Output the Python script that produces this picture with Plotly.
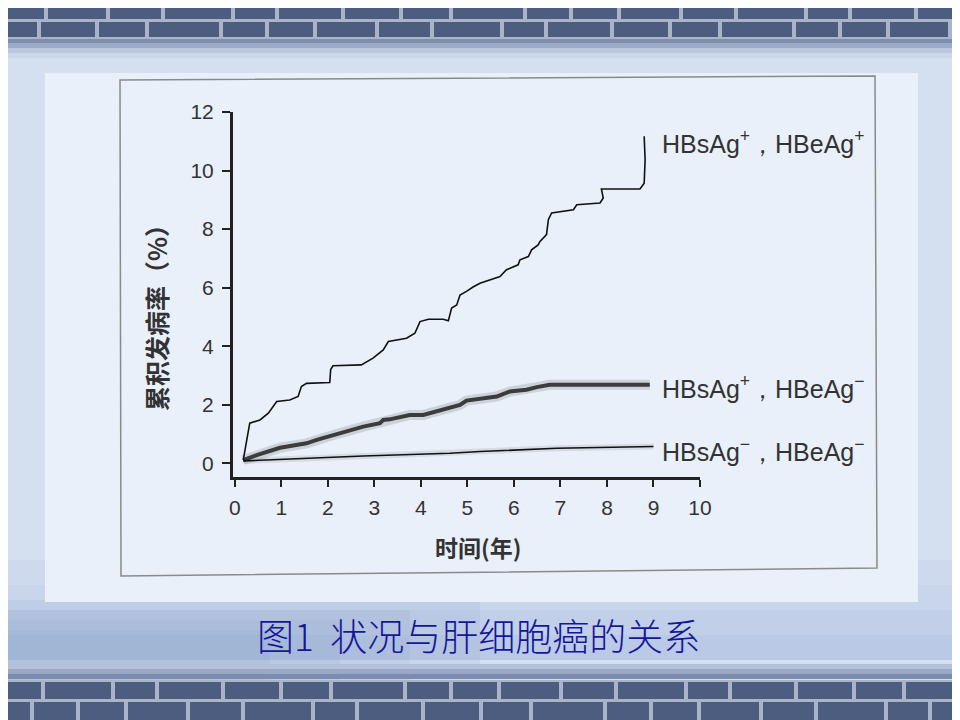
import plotly.graph_objects as go

# HBsAg+, HBeAg+ (cumulative incidence, %)
pos_pos_years = [0.18, 0.25, 0.32, 0.54, 0.72, 0.90, 1.18, 1.36, 1.43, 1.54, 2.04, 2.06, 2.11,
                 2.72, 2.97, 3.19, 3.30, 3.69, 3.87, 3.98, 4.16, 4.48, 4.59, 4.66, 4.77, 4.84,
                 4.98, 5.12, 5.27, 5.70, 5.84, 6.09, 6.13, 6.31, 6.38, 6.52, 6.56, 6.70, 6.74,
                 6.81, 7.28, 7.35, 7.85, 7.92, 7.88, 8.71, 8.80, 8.82, 8.80]
pos_pos_rate = [0.11, 0.80, 1.37, 1.48, 1.71, 2.11, 2.16, 2.28, 2.62, 2.73, 2.76, 3.20, 3.33,
                3.36, 3.59, 3.87, 4.16, 4.27, 4.44, 4.84, 4.92, 4.92, 4.87, 5.30, 5.41, 5.75,
                5.87, 6.02, 6.15, 6.38, 6.61, 6.78, 6.95, 7.06, 7.29, 7.46, 7.58, 7.81, 8.32,
                8.55, 8.66, 8.83, 8.89, 9.06, 9.37, 9.37, 9.57, 10.37, 11.17]

# HBsAg+, HBeAg-
pos_neg_years = [0.18, 0.47, 0.97, 1.54, 1.76, 2.26, 2.76, 3.12, 3.19, 3.33, 3.76, 4.05, 4.48,
                 4.84, 4.98, 5.34, 5.63, 5.91, 6.27, 6.49, 6.77, 8.92]
pos_neg_rate = [0.11, 0.28, 0.53, 0.68, 0.80, 1.03, 1.25, 1.37, 1.48, 1.50, 1.65, 1.65, 1.82,
                1.99, 2.14, 2.22, 2.28, 2.45, 2.51, 2.60, 2.68, 2.68]

# HBsAg-, HBeAg-
neg_neg_years = [0.18, 2.76, 4.62, 5.27, 6.92, 9.00]
neg_neg_rate = [0.08, 0.25, 0.34, 0.40, 0.51, 0.57]

x_ticks = [0, 1, 2, 3, 4, 5, 6, 7, 8, 9, 10]
y_ticks = [0, 2, 4, 6, 8, 10, 12]

series_labels = ["HBsAg<sup>+</sup>，HBeAg<sup>+</sup>",
                 "HBsAg<sup>+</sup>，HBeAg<sup>−</sup>",
                 "HBsAg<sup>−</sup>，HBeAg<sup>−</sup>"]
label_y = [10.98, 2.6, 0.45]

caption = "图1  状况与肝细胞癌的关系"

# plot area in screen pixels; the page body adds an 8px margin around the figure
OFF = 8
L, R, T, B = 233, 700, 112, 477
W, H = 960, 720


def px_x(px):
    return (px - L) / (R - L)


def px_y(py):
    return (B - py) / (B - T)


def rect(x0, y0, x1, y1, fill, line=None, lw=0):
    return dict(type="rect", xref="paper", yref="paper", layer="below",
                x0=px_x(x0), x1=px_x(x1), y0=px_y(y1), y1=px_y(y0),
                fillcolor=fill, line=dict(color=line or fill, width=lw))


fig = go.Figure()

# halo under the scanned curves
fig.add_trace(go.Scatter(x=pos_neg_years, y=pos_neg_rate, mode="lines",
                         line=dict(color="rgba(120,120,120,0.25)", width=10),
                         hoverinfo="skip", showlegend=False))
fig.add_trace(go.Scatter(x=neg_neg_years, y=neg_neg_rate, mode="lines",
                         line=dict(color="rgba(120,120,120,0.18)", width=6),
                         hoverinfo="skip", showlegend=False))
fig.add_trace(go.Scatter(x=pos_neg_years, y=pos_neg_rate, mode="lines",
                         line=dict(color="#3c3c3c", width=4), name=series_labels[1],
                         showlegend=False))
fig.add_trace(go.Scatter(x=pos_pos_years, y=pos_pos_rate, mode="lines",
                         line=dict(color="#111111", width=1.6), name=series_labels[0],
                         showlegend=False))
fig.add_trace(go.Scatter(x=neg_neg_years, y=neg_neg_rate, mode="lines",
                         line=dict(color="#111111", width=1.6), name=series_labels[2],
                         showlegend=False))

shapes = []
# slide background, lighter at the top, bluer towards the bottom left
shapes.append(rect(0, 0, W + OFF, H + OFF, "#d4dff0"))
for i, c in enumerate(["#ced9ed", "#c8d5eb", "#c1cfe8", "#bac9e5"]):
    shapes.append(rect(0, 560 + i * 25, W + OFF, 585 + i * 25, c))
for i, c in enumerate(["rgba(120,145,190,0.10)", "rgba(120,145,190,0.10)",
                       "rgba(120,145,190,0.10)", "rgba(120,145,190,0.10)"]):
    shapes.append(rect(0, 600 + i * 10, 480 - i * 70, 680, c))
for i, c in enumerate(["#7e8eae", "#9dacc6", "#b9c6dc", "#cbd6e9"]):
    shapes.append(rect(0, 38 + i * 5, W + OFF, 43 + i * 5, c))
for i, c in enumerate(["#b2c0da", "#98a8c6", "#7c8cae"]):
    shapes.append(rect(0, 664 + i * 5, W + OFF, 669 + i * 5, c))

# brick bands (top and bottom)
brick_rows = [(2, 19, 0), (22, 37, 25), (682, 699, 10), (702, 720, 40)]
brick_widths = [48, 62, 55, 70, 44, 66, 58, 50, 74, 46]
for y0, y1, offset in brick_rows:
    shapes.append(rect(0, y0 - 2, W + OFF, y1 + 2, "#a9b4c8"))
    x = -offset
    k = offset // 5
    while x < W + OFF:
        w = brick_widths[k % len(brick_widths)]
        shapes.append(rect(max(x, 0), y0, min(x + w - 4, W + OFF), y1, "#4d5d7f"))
        x += w
        k += 1

# scanned figure card and its frame
shapes.append(rect(45, 73, 918, 602, "#e9f0fa"))
shapes.append(dict(type="path", xref="paper", yref="paper", layer="below",
                   path="M {} {} L {} {} L {} {} L {} {} Z".format(
                       px_x(120), px_y(80), px_x(875), px_y(76),
                       px_x(877), px_y(568), px_x(121), px_y(576)),
                   line=dict(color="#8a8a8a", width=1.5)))

annotations = []
for text, yv in zip(series_labels, label_y):
    annotations.append(dict(x=9.14, y=yv, xref="x", yref="y", text=text,
                            showarrow=False, xanchor="left", yanchor="middle",
                            font=dict(family="Liberation Sans", size=25, color="#333333")))

annotations.append(dict(x=px_x(156), y=px_y(312), xref="paper", yref="paper",
                        text="累积发病率（%）", textangle=-90, showarrow=False,
                        xanchor="center", yanchor="middle",
                        font=dict(family="Noto Sans CJK SC", size=25, color="#333333", weight="bold")))
annotations.append(dict(x=px_x(478), y=px_y(547), xref="paper", yref="paper",
                        text="时间(年)", showarrow=False, xanchor="center", yanchor="middle",
                        font=dict(family="Noto Sans CJK SC", size=23, color="#333333", weight="bold")))
annotations.append(dict(x=px_x(478), y=px_y(635), xref="paper", yref="paper",
                        text=caption, showarrow=False, xanchor="center", yanchor="middle",
                        font=dict(family="Noto Sans CJK SC", size=37, color="#16169a", weight=300)))

fig.update_layout(
    width=W, height=H,
    margin=dict(l=L - OFF, r=W - (R - OFF), t=T - OFF, b=H - (B - OFF), pad=0),
    paper_bgcolor="#d4dff0",
    plot_bgcolor="rgba(0,0,0,0)",
    shapes=shapes,
    annotations=annotations,
    showlegend=False,
)
fig.update_xaxes(range=[-0.04, 10], tickvals=x_ticks, showgrid=False, zeroline=False,
                 showline=True, linecolor="#222222", linewidth=3,
                 ticks="outside", ticklen=7, tickwidth=2, tickcolor="#222222",
                 ticklabelstandoff=3,
                 tickfont=dict(family="Liberation Sans", size=21, color="#333333"))
fig.update_yaxes(range=[-0.47, 12], tickvals=y_ticks, showgrid=False, zeroline=False,
                 showline=True, linecolor="#222222", linewidth=3,
                 ticks="outside", ticklen=8, tickwidth=2, tickcolor="#222222",
                 ticklabelstandoff=4,
                 tickfont=dict(family="Liberation Sans", size=21, color="#333333"))

fig.write_html("out.html")
